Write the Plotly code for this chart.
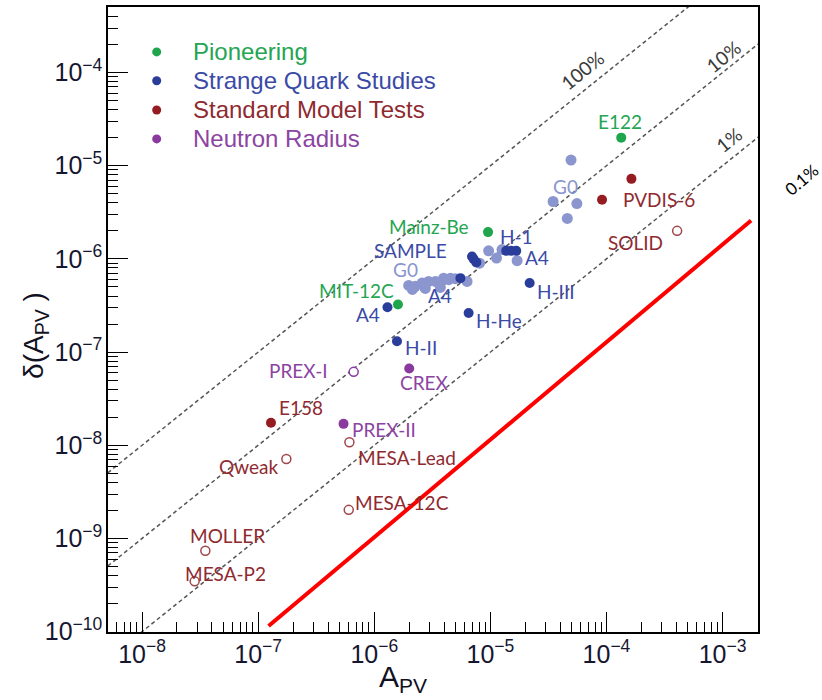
import math
import plotly.graph_objects as go

# ---------------- data ----------------
# Pioneering (filled green)
pio_names = ["E122", "Mainz-Be", "MIT-12C"]
pio_x = [1.34e-4, 9.55e-6, 1.60e-6]
pio_y = [2.00e-5, 1.94e-6, 3.24e-7]

# Strange quark studies (filled dark blue)
sq_names = ["A4", "H-II", "H-He", "H-III", "SAMPLE", "SAMPLE2", "SAMPLE3", "A4c", "H-1a", "H-1b", "A4u"]
sq_x = [1.30e-6, 1.57e-6, 6.50e-6, 2.18e-5, 7.18e-6, 6.95e-6, 7.57e-6, 5.52e-6, 1.37e-5, 1.51e-5, 1.67e-5]
sq_y = [3.03e-7, 1.31e-7, 2.63e-7, 5.51e-7, 9.95e-7, 1.06e-6, 9.18e-7, 6.22e-7, 1.22e-6, 1.22e-6, 1.22e-6]

# G0 measurements (light blue, part of strange quark studies)
g0_x = [4.95e-5, 3.47e-5, 5.56e-5, 4.60e-5,
        9.66e-6, 1.13e-5, 1.26e-5, 1.70e-5, 8.09e-6,
        6.30e-6, 4.53e-6, 3.96e-6,
        1.98e-6, 2.26e-6, 2.58e-6, 2.94e-6, 3.36e-6, 3.84e-6, 4.38e-6, 4.99e-6,
        2.13e-6, 2.75e-6, 3.71e-6]
g0_y = [1.15e-5, 4.13e-6, 3.93e-6, 2.72e-6,
        1.22e-6, 1.02e-6, 1.26e-6, 9.57e-7, 9.01e-7,
        5.74e-7, 6.22e-7, 6.22e-7,
        5.20e-7, 5.08e-7, 5.51e-7, 5.74e-7, 5.74e-7, 5.85e-7, 5.99e-7, 6.14e-7,
        4.71e-7, 4.83e-7, 4.95e-7]

# Standard model tests: measured (filled) and planned (open)
sm_names = ["E158", "PVDIS-6a", "PVDIS-6b"]
sm_x = [1.29e-7, 1.64e-4, 9.16e-5]
sm_y = [1.75e-8, 7.23e-6, 4.31e-6]
smo_names = ["MESA-Lead", "Qweak", "MESA-12C", "MOLLER", "MESA-P2", "SOLID"]
smo_x = [6.11e-7, 1.75e-7, 6.03e-7, 3.51e-8, 2.84e-8, 4.06e-4]
smo_y = [1.08e-8, 7.13e-9, 2.03e-9, 7.38e-10, 3.47e-10, 2.00e-6]

# Neutron radius: measured (filled) and open
nr_names = ["PREX-II", "CREX"]
nr_x = [5.44e-7, 2.00e-6]
nr_y = [1.70e-8, 6.67e-8]
nro_names = ["PREX-I"]
nro_x = [6.65e-7]
nro_y = [6.14e-8]

# reference relative-precision lines
guide_x = [1e-9, 1e-2]
guide_100 = [1e-9, 1e-2]
guide_10 = [1e-10, 1e-3]
guide_1 = [1e-11, 1e-4]

# hand-drawn 0.1% line (red)
red_x = [1.23e-7, 1.76e-3]
red_y = [1.15e-10, 2.58e-6]

legend_labels = ["Pioneering", "Strange Quark Studies", "Standard Model Tests", "Neutron Radius"]

# ---------------- style ----------------
GREEN = "#1fa64c"
BLUE = "#2b3d9b"
LBLUE = "#8b96cf"
RED = "#951d22"
PURPLE = "#8a3a9e"
TGREEN = "#24a552"
TBLUE = "#3a4aa6"
TLBLUE = "#8a95cf"
TRED = "#8f2a30"
TPURPLE = "#8c44a2"
LFONT = "Lato"
AFONT = "Liberation Sans"

fig = go.Figure()

for gy in (guide_100, guide_10, guide_1):
    fig.add_trace(go.Scatter(x=guide_x, y=gy, mode="lines", showlegend=False,
                             line=dict(color="#555555", width=1.5, dash="4px,3px"),
                             hoverinfo="skip"))

fig.add_trace(go.Scatter(x=red_x, y=red_y, mode="lines", showlegend=False,
                         line=dict(color="#ff0000", width=4)))

fig.add_trace(go.Scatter(x=g0_x, y=g0_y, mode="markers", showlegend=False,
                         marker=dict(color=LBLUE, size=11)))

fig.add_trace(go.Scatter(x=pio_x, y=pio_y, mode="markers", showlegend=False,
                         marker=dict(color=GREEN, size=10)))
fig.add_trace(go.Scatter(x=sq_x, y=sq_y, mode="markers", showlegend=False,
                         marker=dict(color=BLUE, size=10)))
fig.add_trace(go.Scatter(x=sm_x, y=sm_y, mode="markers", showlegend=False,
                         marker=dict(color=RED, size=10)))
fig.add_trace(go.Scatter(x=nr_x, y=nr_y, mode="markers", showlegend=False,
                         marker=dict(color=PURPLE, size=10)))
fig.add_trace(go.Scatter(x=smo_x, y=smo_y, mode="markers", showlegend=False,
                         marker=dict(color="white", size=9, symbol="circle",
                                     line=dict(color="#a0464a", width=1.5))))
fig.add_trace(go.Scatter(x=nro_x, y=nro_y, mode="markers", showlegend=False,
                         marker=dict(color="white", size=9, symbol="circle",
                                     line=dict(color=PURPLE, width=1.5))))

# point labels: (text, point x, point y, xshift, yshift, color)
labels = [
    ("E122", pio_x[0], pio_y[0], -1, 16, TGREEN),
    ("Mainz-Be", pio_x[1], pio_y[1], -59, 6, TGREEN),
    ("MIT-12C", pio_x[2], pio_y[2], -41, 14, TGREEN),
    ("SAMPLE", sq_x[4], sq_y[4], -63, 9, TBLUE),
    ("G0", g0_x[12], g0_y[12], -3, 16, TLBLUE),
    ("A4", sq_x[7], sq_y[7], -20, -17, TBLUE),
    ("A4", sq_x[0], sq_y[0], -19, -7, TBLUE),
    ("H-1", sq_x[9], sq_y[9], 5, 14, TBLUE),
    ("A4", sq_x[10], sq_y[10], 21, -7, TBLUE),
    ("H-III", sq_x[3], sq_y[3], 26, -8, TBLUE),
    ("H-He", sq_x[2], sq_y[2], 30, -8, TBLUE),
    ("H-II", sq_x[1], sq_y[1], 24, -6, TBLUE),
    ("G0", g0_x[1], g0_y[1], 12, 15, TLBLUE),
    ("PVDIS-6", sm_x[2], sm_y[2], 57, 0, TRED),
    ("SOLID", smo_x[5], smo_y[5], -42, -12, TRED),
    ("E158", sm_x[0], sm_y[0], 30, 15, TRED),
    ("Qweak", smo_x[1], smo_y[1], -38, -7, TRED),
    ("MESA-Lead", smo_x[0], smo_y[0], 58, -15, TRED),
    ("MESA-12C", smo_x[2], smo_y[2], 53, 7, TRED),
    ("MOLLER", smo_x[3], smo_y[3], 22, 15, TRED),
    ("MESA-P2", smo_x[4], smo_y[4], 31, 8, TRED),
    ("PREX-I", nro_x[0], nro_y[0], -55, 1, TPURPLE),
    ("PREX-II", nr_x[0], nr_y[0], 40, -6, TPURPLE),
    ("CREX", nr_x[1], nr_y[1], 15, -14, TPURPLE),
]
for text, px, py, dx, dy, col in labels:
    fig.add_annotation(x=math.log10(px), y=math.log10(py), xref="x", yref="y",
                       text=text, showarrow=False, xshift=dx, yshift=dy,
                       xanchor="center", yanchor="middle",
                       font=dict(family=LFONT, size=19, color=col))

# legend (drawn manually so that each entry text has its own colour)
leg_colors = [GREEN, BLUE, RED, PURPLE]
leg_tcolors = [TGREEN, TBLUE, TRED, TPURPLE]
leg_y = [0.9282, 0.8820, 0.8352, 0.7890]
for lab, mc, tc, ly in zip(legend_labels, leg_colors, leg_tcolors, leg_y):
    fig.add_shape(type="circle", xref="paper", yref="paper",
                  xsizemode="pixel", ysizemode="pixel",
                  xanchor=0.0749, yanchor=ly, x0=-4.5, x1=4.5, y0=-4.5, y1=4.5,
                  fillcolor=mc, line=dict(color=mc, width=0))
    fig.add_annotation(x=0.1272, y=ly, xref="paper", yref="paper", text=lab,
                       showarrow=False, xanchor="left", yanchor="middle",
                       font=dict(family=AFONT, size=24, color=tc))

# percentage labels
pct = [("100%", 0.7288, 0.8989, -38.8, "#3a3a3a", 19),
       ("10%", 0.9466, 0.9202, -38.8, "#3a3a3a", 19),
       ("1%", 0.9558, 0.7873, -38.8, "#3a3a3a", 19),
       ("0.1%", 1.0672, 0.7236, -40, "#000000", 17)]
for text, ax, ay, ang, col, sz in pct:
    fig.add_annotation(x=ax, y=ay, xref="paper", yref="paper", text=text, showarrow=False,
                       xanchor="center", yanchor="middle",
                       textangle=ang, font=dict(family=LFONT, size=sz, color=col))

# axis titles
fig.add_annotation(x=0.454, y=-0.0750, xref="paper", yref="paper",
                   text="A<sub>PV</sub>", showarrow=False,
                   xanchor="center", yanchor="middle",
                   font=dict(family=AFONT, size=30, color="#111122"))
fig.add_annotation(x=-0.1108, y=0.4753, xref="paper", yref="paper",
                   text="δ(A<sub>PV</sub> )", showarrow=False, textangle=-90,
                   xanchor="center", yanchor="middle",
                   font=dict(family=AFONT, size=28, color="#111122"))

axis_common = dict(
    type="log", showgrid=False, zeroline=False,
    showline=True, linecolor="black", linewidth=1.5, mirror=True,
    ticks="inside", ticklen=20, tickwidth=1.3, tickcolor="black",
    tickmode="linear", tick0=0, dtick=1,
    exponentformat="power", showexponent="all",
    tickfont=dict(family=AFONT, size=20, color="#161630"),
    minor=dict(ticks="inside", ticklen=10, tickwidth=1.3, tickcolor="black", dtick="D1"),
)

fig.update_xaxes(**axis_common, range=[-8.293, -2.695])
fig.update_yaxes(**axis_common, range=[-10.003, -3.297])

fig.update_layout(
    width=822, height=700,
    margin=dict(l=108, r=64, t=5, b=68),
    paper_bgcolor="white", plot_bgcolor="white",
    showlegend=False,
)

fig.write_html("out.html", config={"displayModeBar": False},
               post_script="document.body.style.margin='0px';")
